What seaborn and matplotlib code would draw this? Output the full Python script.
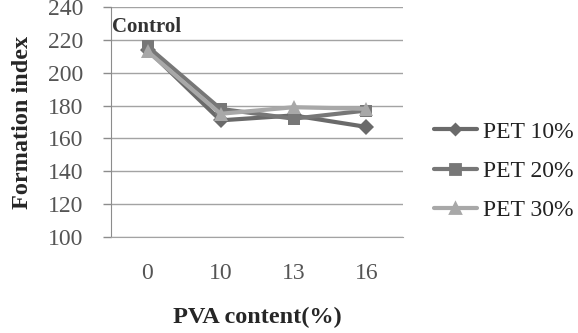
import numpy as np
import pandas as pd
import matplotlib
matplotlib.use('Agg')
from matplotlib import pyplot as plt
import seaborn as sns

# ---- data
pva_content = ['0', '10', '13', '16']
pet_10 = [214, 171, 174, 167]
pet_20 = [216, 178, 172, 177]
pet_30 = [213, 175, 179, 178]
series_names = ['PET 10%', 'PET 20%', 'PET 30%']

df = pd.DataFrame({
    'pva': pva_content * 3,
    'fi': pet_10 + pet_20 + pet_30,
    'pet': np.repeat(series_names, len(pva_content)),
})

############ --------------- PLOT --------------- ###########
sns.set_style('white')
plt.rcParams['font.family'] = ['Liberation Serif', 'DejaVu Serif']

mycolors = ['#6a6a6a', '#777777', '#a8a8a8']
gridgray = '#a3a3a3'

fig = plt.figure(figsize=(5.78, 3.33), dpi=100)
ax = fig.add_axes([111/578, 1 - 237/333, 292/578, 230/333])

sns.pointplot(data=df, x='pva', y='fi', hue='pet', order=pva_content,
              hue_order=series_names, palette=mycolors,
              markers=['D', 's', '^'], linestyles=['-', '-', '-'],
              errorbar=None, ax=ax)

msizes = [8, 9, 10]
for idx, line in enumerate(ax.lines[:3]):
    line.set_linewidth(3)
    line.set_markersize(msizes[idx])
    line.set_markeredgewidth(0)

ax.set_ylim(100, 240)
ax.set_yticks(np.arange(100, 241, 20))
ax.set_xlim(-0.5, 3.5)
ax.yaxis.grid(True, color=gridgray, linewidth=1)
ax.set_axisbelow(True)

for sp in ['top', 'right']:
    ax.spines[sp].set_visible(False)
ax.spines['left'].set_color('#8c8c8c')
ax.spines['bottom'].set_color(gridgray)

ax.tick_params(axis='y', length=6, width=1, color='#8c8c8c', pad=14,
               labelsize=17, labelcolor='#555555', left=True)
ax.tick_params(axis='x', length=0, pad=19, labelsize=17, labelcolor='#555555')

ax.set_xlabel('PVA content(%)', fontsize=17.5, fontweight='bold', labelpad=16.5)
ax.set_ylabel('Formation index', fontsize=17.5, fontweight='bold', labelpad=10.5)

ax.text(-0.48, 228, 'Control', fontsize=15, fontweight='bold', color='#333333',
        ha='left', va='center')

# legend on the right
leg = ax.legend(loc='center left', bbox_to_anchor=(434/578, 1 - 171/333),
                bbox_transform=fig.transFigure, frameon=False, fontsize=17,
                borderaxespad=0, borderpad=0,
                handlelength=1.82, handletextpad=0.25, labelspacing=0.75,
                labelcolor='#222222')
for idx, h in enumerate(leg.legend_handles):
    h.set_linewidth(3)
    h.set_markersize(msizes[idx] - 2.5)

fig.savefig('out.png', dpi=100)
